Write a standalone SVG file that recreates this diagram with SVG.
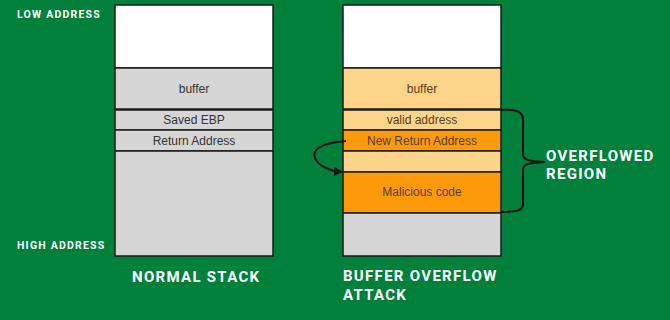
<svg xmlns="http://www.w3.org/2000/svg" width="670" height="320" viewBox="0 0 670 320">
<defs>
<style>
.cell{stroke:#1a1a1a;stroke-width:1.5}
.w{fill:#ffffff}.g{fill:#d6d6d6}.lo{fill:#fdd58a}.o{fill:#fd9a0c}
.t{font-family:"Liberation Sans",Arial,sans-serif;font-size:12px;fill:#333;text-anchor:middle}
.to{fill:#5a3b1a}
.lab{font-family:"Roboto","Liberation Sans",sans-serif;font-weight:bold;fill:#ffffff;letter-spacing:1.2px}
.big{font-size:15px;letter-spacing:1.3px}
.sm{font-size:10.5px}
.con{fill:none;stroke:#111;stroke-width:2}
</style>
<marker id="ah" markerWidth="9" markerHeight="9" refX="8" refY="4.5" orient="auto" markerUnits="userSpaceOnUse"><path d="M0,0 L9,4.5 L0,9 Z" fill="#111"/></marker>
</defs>
<rect width="670" height="320" fill="#00803a"/>
<g id="normal-stack">
<rect class="cell w" x="115" y="5" width="158" height="63"/>
<rect class="cell g" x="115" y="68" width="158" height="41"/>
<text class="t" x="194" y="93">buffer</text>
<rect class="cell g" x="115" y="110" width="158" height="20"/>
<text class="t" x="194" y="124">Saved EBP</text>
<rect class="cell g" x="115" y="130" width="158" height="21"/>
<text class="t" x="194" y="145">Return Address</text>
<rect class="cell g" x="115" y="151" width="158" height="105"/>
</g>
<g id="overflow-stack">
<rect class="cell w" x="343" y="5" width="158" height="63"/>
<rect class="cell lo" x="343" y="68" width="158" height="41"/>
<text class="t to" x="422" y="93">buffer</text>
<rect class="cell lo" x="343" y="110" width="158" height="20"/>
<text class="t to" x="422" y="124">valid address</text>
<rect class="cell o" x="343" y="130" width="158" height="21"/>
<text class="t to" x="422" y="145">New Return Address</text>
<rect class="cell lo" x="343" y="151" width="158" height="21"/>
<rect class="cell o" x="343" y="172" width="158" height="41"/>
<text class="t to" x="422" y="196">Malicious code</text>
<rect class="cell g" x="343" y="213" width="158" height="43"/>
</g>
<g id="connectors">
<path class="con" d="M346,141 C320,143 312,150 315,158 C318,166 330,171 342,172" marker-end="url(#ah)"/>
<path class="con" d="M501,110 C515,109 523,111 523,120 L523,154 C523,160 528,161 545,162 C528,163 523,164 523,170 L523,204 C523,211 515,212 501,212"/>
</g>
<g id="labels">
<text class="lab sm" x="17" y="18">LOW ADDRESS</text>
<text class="lab sm" x="17" y="249">HIGH ADDRESS</text>
<text class="lab big" x="132" y="282">NORMAL STACK</text>
<text class="lab big" x="343" y="281">BUFFER OVERFLOW</text>
<text class="lab big" x="343" y="300">ATTACK</text>
<text class="lab big" x="546" y="161">OVERFLOWED</text>
<text class="lab big" x="546" y="179">REGION</text>
</g>
</svg>
